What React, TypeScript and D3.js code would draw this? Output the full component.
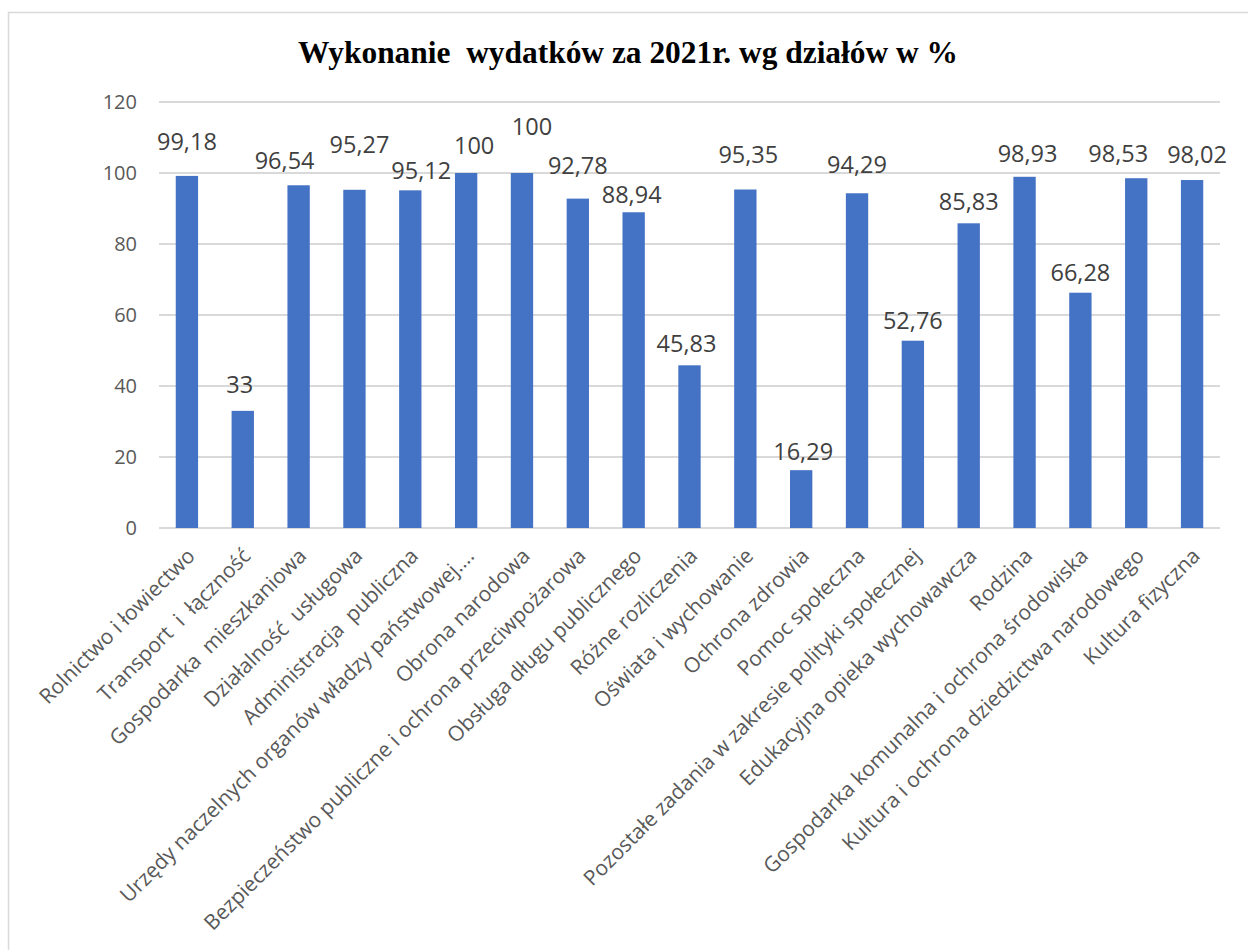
import React from 'react'
import * as d3 from 'd3'

const categories = [
  'Rolnictwo i łowiectwo',
  'Transport  i  łączność',
  'Gospodarka  mieszkaniowa',
  'Działalność  usługowa',
  'Administracja  publiczna',
  'Urzędy naczelnych organów władzy państwowej….',
  'Obrona narodowa',
  'Bezpieczeństwo publiczne i ochrona przeciwpożarowa',
  'Obsługa długu publicznego',
  'Różne rozliczenia',
  'Oświata i wychowanie',
  'Ochrona zdrowia',
  'Pomoc społeczna',
  'Pozostałe zadania w zakresie polityki społecznej',
  'Edukacyjna opieka wychowawcza',
  'Rodzina',
  'Gospodarka komunalna i ochrona środowiska',
  'Kultura i ochrona dziedzictwa narodowego',
  'Kultura fizyczna'
]

const values = [
  99.18, 33, 96.54, 95.27, 95.12, 100, 100, 92.78, 88.94, 45.83, 95.35, 16.29,
  94.29, 52.76, 85.83, 98.93, 66.28, 98.53, 98.02
]

const yTicks = [0, 20, 40, 60, 80, 100, 120]

// Excel nudged the data labels around to avoid collisions (px)
const labelGap = [34, 26, 25, 45, 20, 27, 46, 33, 17, 22, 35, 18, 28, 20, 22, 23, 20, 24, 25]
const labelShift = [0, -3, -14, 5, 11, 8, 10, 0, -2, -3, 3, 2, 0, 0, 0, 3, 0, -18, 5]

const title = 'Wykonanie  wydatków za 2021r. wg działów w %'

const W = 1248
const H = 950
const plot = { left: 159, right: 1220, top: 102, bottom: 528 }

const fmt = (v: number) => String(v).replace('.', ',')

export default function App() {
  const x = d3
    .scaleBand<string>()
    .domain(categories)
    .range([plot.left, plot.right])
    .paddingInner(0.6)
    .paddingOuter(0.3)

  const y = d3.scaleLinear().domain([0, 120]).range([plot.bottom, plot.top])

  return (
    <svg
      width={W}
      height={H}
      style={{ position: 'absolute', left: 0, top: 0, background: '#fff' }}
      fontFamily="'Open Sans', sans-serif"
    >
      <rect x={8.5} y={12.5} width={W + 20} height={H + 20} fill="#fff" stroke="#d9d9d9" strokeWidth={1.5} />

      <text
        x={628}
        y={63}
        textAnchor="middle"
        fontFamily="'Liberation Serif', 'Times New Roman', serif"
        fontWeight="bold"
        fontSize={32}
        textLength={660}
        lengthAdjust="spacingAndGlyphs"
        style={{ whiteSpace: 'pre' }}
        fill="#000"
      >
        {title}
      </text>

      {/* gridlines + y labels */}
      {yTicks.map(t => (
        <g key={t}>
          <line x1={plot.left} x2={plot.right} y1={y(t)} y2={y(t)} stroke="#d9d9d9" strokeWidth={2} />
          <text x={137} y={y(t)} dy="0.35em" textAnchor="end" fontSize={20} fill="#595959">
            {t}
          </text>
        </g>
      ))}

      {/* bars */}
      {values.map((v, i) => (
        <rect
          key={i}
          x={x(categories[i])}
          y={y(v)}
          width={x.bandwidth()}
          height={y(0) - y(v)}
          fill="#4472c4"
        />
      ))}

      {/* data labels */}
      {values.map((v, i) => (
        <text
          key={i}
          x={(x(categories[i]) as number) + x.bandwidth() / 2 + labelShift[i]}
          y={y(v) - labelGap[i]}
          dy="0.35em"
          textAnchor="middle"
          fontSize={23.5}
          fill="#404040"
        >
          {fmt(v)}
        </text>
      ))}

      {/* category labels */}
      {categories.map(c => {
        const cx = (x(c) as number) + x.bandwidth() / 2
        return (
          <text
            key={c}
            transform={`translate(${cx + 4},${552}) rotate(-45)`}
            dy="0.35em"
            textAnchor="end"
            fontSize={21}
            fill="#595959"
            style={{ whiteSpace: 'pre' }}
          >
            {c}
          </text>
        )
      })}
    </svg>
  )
}
